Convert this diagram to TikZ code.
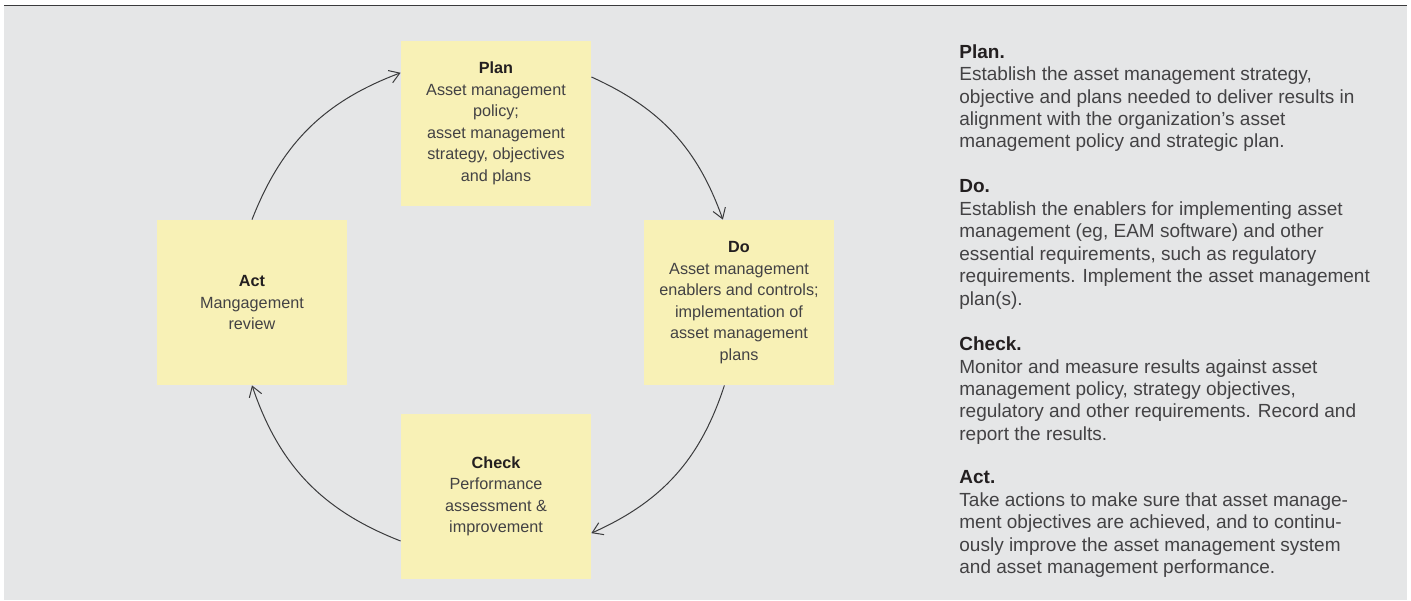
\documentclass[tikz,border=0pt]{standalone}
\usepackage{fontspec}
\setmainfont{Liberation Sans}
\definecolor{panel}{HTML}{E5E6E7}
\definecolor{rule}{HTML}{3A3A3C}
\definecolor{sticky}{HTML}{F8F1B6}
\definecolor{ink}{HTML}{231F20}
\definecolor{textgrey}{HTML}{434244}
\usetikzlibrary{arrows.meta}
\usetikzlibrary{positioning}
\newcommand*{\boxfont}{\fontsize{8.1}{10.75}\selectfont}
\newcommand*{\notefont}{\fontsize{9.5}{11.22}\selectfont}
\newcommand*{\stagehead}[1]{{\color{ink}\bfseries #1}}
\tikzstyle{base}=[x=0.5pt, y=-0.5pt]
\tikzstyle{stage}=[fill=sticky, minimum width=95pt, minimum height=82.5pt, inner sep=0pt, align=center, text=textgrey, font=\boxfont]
\tikzstyle{flow}=[draw=rule, line width=0.5pt, -{Straight Barb[length=5pt,width=6.5pt]}]
\tikzstyle{note}=[anchor=north west, inner sep=0pt, align=left, text=textgrey, font=\notefont]

\begin{document}
\begin{tikzpicture}[base]
    \useasboundingbox (0,0) rectangle (1411,600);
    \fill [panel] (4,6) rectangle (1407,600);
    \draw [rule, line width=0.75pt] (4,5.7) -- (1407,5.7);
        \node [stage] (plan) at (496,123.5) {\stagehead{Plan}\\Asset management\\policy;\\asset management\\strategy, objectives\\and plans};
        \node [stage] (do) at (739,302.5) {\stagehead{Do}\\Asset management\\enablers and controls;\\implementation of\\asset management\\plans};
        \node [stage] (check) at (496,496.5) {\stagehead{Check}\\Performance\\assessment \&\\improvement};
        \node [stage] (act) at (252,302.5) {\stagehead{Act}\\Mangagement\\review};
        \draw [flow] (act.north) to [bend left=24] (plan.152);
        \draw [flow] (plan.26) to [bend left=23] (do.101);
        \draw [flow] (do.260) to [bend left=24] (check.-21);
        \draw [flow] (check.205) to [bend left=25] (act.south);
        \node [note] (plantxt) at (959,44) {\stagehead{Plan.}\\Establish the asset management strategy,\\objective and plans needed to deliver results in\\alignment with the organization’s asset\\management policy and strategic plan.};
        \node [note] (dotxt) at (959,179.5) {\stagehead{Do.}\\Establish the enablers for implementing asset\\management (eg, EAM software) and other\\essential requirements, such as regulatory\\requirements. Implement the asset management\\plan(s).};
        \node [note] (checktxt) at (959,336.5) {\stagehead{Check.}\\Monitor and measure results against asset\\management policy, strategy objectives,\\regulatory and other requirements. Record and\\report the results.};
        \node [note] (acttxt) at (959,470.5) {\stagehead{Act.}\\Take actions to make sure that asset manage-\\ment objectives are achieved, and to continu-\\ously improve the asset management system\\and asset management performance.};
    \end{tikzpicture}
\end{document}
